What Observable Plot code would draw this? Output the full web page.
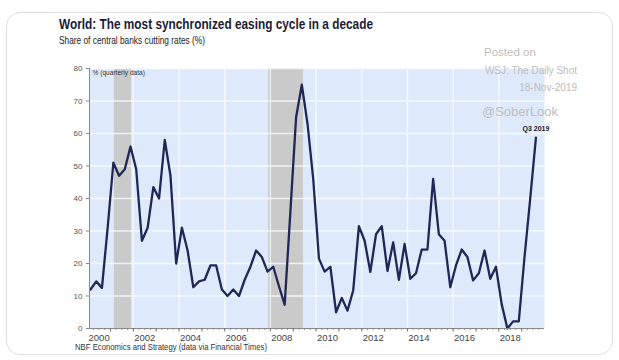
<!DOCTYPE html>
<html><head><meta charset="utf-8">
<script src="https://cdn.jsdelivr.net/npm/d3@7"></script>
<script src="https://cdn.jsdelivr.net/npm/@observablehq/plot@0.6"></script>
<style>
body{margin:0;background:#fff;width:619px;height:360px;overflow:hidden;position:relative;font-family:"Liberation Sans",Arial,sans-serif}
#card{position:absolute;left:6px;top:12px;width:607px;height:343px;border:1px solid #dedede;border-radius:14px;box-sizing:border-box}
.t{position:absolute;white-space:nowrap;line-height:1;transform-origin:0 0;font-family:"Liberation Sans",Arial,sans-serif}
#title{left:59px;top:16.2px;font-weight:bold;font-size:15.5px;color:#1b1b35}
#subtitle{left:59px;top:36px;font-size:10.2px;color:#222}
#caption{left:75px;top:342.6px;font-size:8.6px;color:#333}
.wm{position:absolute;white-space:nowrap;line-height:1;color:#bcbcbc}
#chart{position:absolute;left:0;top:48px}
</style></head>
<body>
<div id="card"></div>
<div id="chart"></div>
<div id="title" class="t">World: The most synchronized easing cycle in a decade</div>
<div id="subtitle" class="t">Share of central banks cutting rates (%)</div>
<div id="caption" class="t">NBF Economics and Strategy (data via Financial Times)</div>
<div class="wm" style="left:484px;top:47px;font-size:11.5px">Posted on</div>
<div class="wm" style="right:42px;top:65.8px;font-size:10px">WSJ: The Daily Shot</div>
<div class="wm" style="right:42px;top:83px;font-size:10px">18-Nov-2019</div>
<div class="wm" style="left:482px;top:104.5px;font-size:13px">@SoberLook</div>
<script>
// Quarterly share of central banks cutting rates (%), 2000Q1 .. 2019Q3
const startYear = 2000;
const values = [
  12, 14.5, 12.5, 31,
  51, 47, 49, 56,
  49, 27, 31, 43.5,
  40, 58, 47, 20,
  31, 24, 12.7, 14.5,
  15, 19.4, 19.4, 12,
  10, 12, 10, 15,
  19, 24, 22, 17.5,
  19, 13, 7.3, 36,
  65, 75, 63, 46,
  21.5, 17.5, 19, 5,
  9.4, 5.5, 11.7, 31.5,
  27, 17.4, 29, 31.5,
  17.7, 26.5, 15, 26,
  15.3, 17, 24.3, 24.3,
  46, 29, 27, 12.7,
  19.4, 24.3, 22, 14.8,
  17, 24, 15.3, 19,
  7.5, 0, 2.2, 2.2,
  22, 40, 58.7
];
const recessionStart = [2001.17, 2007.92];
const recessionEnd = [2001.92, 2009.45];
const yTicks = [0, 10, 20, 30, 40, 50, 60, 70, 80];
const xLabelYears = [2000, 2002, 2004, 2006, 2008, 2010, 2012, 2014, 2016, 2018];
const gridYears = [2002, 2004, 2006, 2008, 2010, 2012, 2014, 2016, 2018];
const allYears = d3.range(2000, 2020);

const data = values.map((v, i) => ({t: startYear + i / 4 + 0.125, v}));
const recessions = recessionStart.map((s, i) => ({start: s, end: recessionEnd[i]}));
const quarterTicks = d3.range(0, 80).map(i => startYear + i / 4).filter(d => d > 2000.08);
const last = data[data.length - 1];

const chart = Plot.plot({
  width: 619, height: 296,
  marginLeft: 89, marginRight: 75, marginTop: 20, marginBottom: 16,
  style: {fontFamily: "Liberation Sans, Arial, sans-serif", color: "#555", background: "transparent"},
  x: {domain: [2000.08, 2020], axis: null},
  y: {domain: [0, 80], axis: null},
  marks: [
    Plot.frame({fill: "#deeafc", stroke: null}),
    Plot.rect(recessions, {x1: "start", x2: "end", y1: 0, y2: 80, fill: "#cacaca"}),
    Plot.ruleY(yTicks.filter(d => d > 0), {stroke: "#fff", strokeWidth: 1.3, strokeOpacity: 0.75}),
    Plot.ruleX(gridYears, {stroke: "#fff", strokeWidth: 1.3, strokeOpacity: 0.75}),
    Plot.line(data, {x: "t", y: "v", stroke: "#1f2756", strokeWidth: 2.3}),
    Plot.ruleX([2000.08], {y1: 0, y2: 80, stroke: "#8a8a8a"}),
    Plot.ruleY([0], {stroke: "#8a8a8a"}),
    Plot.ruleX(quarterTicks, {y1: 0, y2: -0.6, stroke: "#888"}),
    Plot.ruleX(allYears.filter(d => d > 2000.08), {y1: 0, y2: -1.1, stroke: "#777"}),
    Plot.ruleY(yTicks, {x1: 2000.08, x2: 2000.08 - 0.14, stroke: "#888"}),
    Plot.text(yTicks, {x: 2000.08, y: d => d, dx: -7, textAnchor: "end", text: d => String(d), fontSize: 8, fill: "#555"}),
    Plot.text(xLabelYears, {x: d => d + 0.5, y: 0, dy: 9.5, text: d => String(d), fontSize: 9.5, fill: "#444"}),
    Plot.text(["% (quarterly data)"], {frameAnchor: "top-left", dx: 3, dy: 2, fontSize: 6.6, fill: "#333"}),
    Plot.text([last], {x: "t", y: "v", dy: -8.5, text: () => "Q3 2019", fontSize: 7, fontWeight: "bold", fill: "#222"})
  ]
});
document.getElementById("chart").appendChild(chart);

function fit(id, w) {
  const el = document.getElementById(id);
  const cur = el.getBoundingClientRect().width;
  if (cur > 0) el.style.transform = `scaleX(${w / cur})`;
}
fit("title", 314);
fit("subtitle", 146);
fit("caption", 192);
</script>
</body></html>
